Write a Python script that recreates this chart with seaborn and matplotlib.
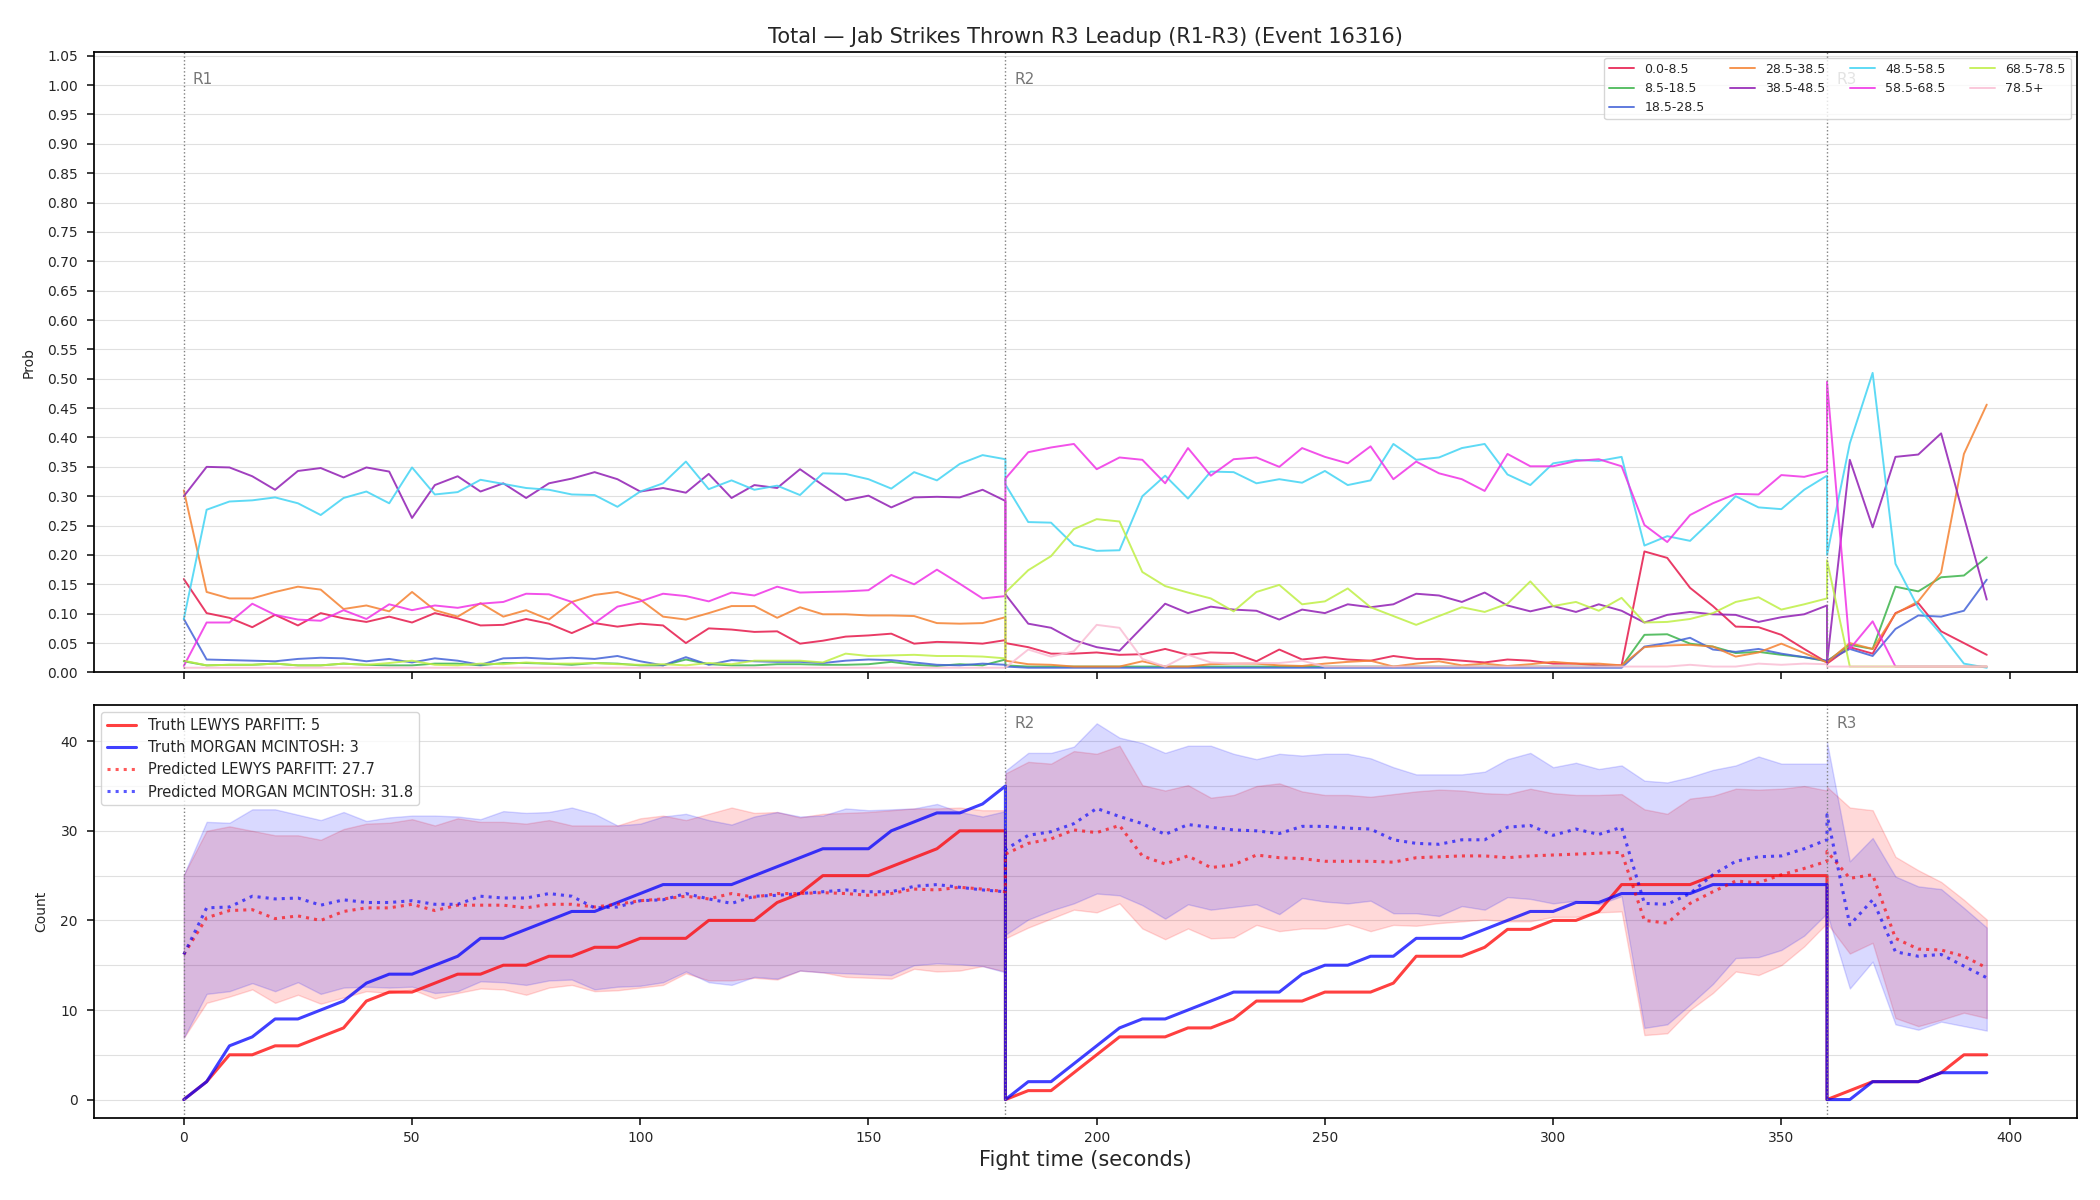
import numpy as np
import pandas as pd
import matplotlib
matplotlib.use("Agg")
import matplotlib.pyplot as plt
from matplotlib.ticker import MultipleLocator
import seaborn as sns

# fight time, three rounds; each round restarts at the boundary second
r1_t = list(range(0, 181, 5))
r2_t = list(range(180, 361, 5))
r3_t = list(range(360, 396, 5))
time_s = r1_t + r2_t + r3_t
round_starts = [0, 180, 360]
round_names = ["R1", "R2", "R3"]

# --- top panel: probability per strike-count bin ---
bins = ["0.0-8.5", "8.5-18.5", "18.5-28.5", "28.5-38.5", "38.5-48.5",
        "48.5-58.5", "58.5-68.5", "68.5-78.5", "78.5+"]
bin_colors = ["#e6194B", "#3cb44b", "#4363d8", "#f58231", "#911eb4",
              "#42d4f4", "#f032e6", "#bfef45", "#fabed4"]

p_0_8 = ([0.159, 0.101, 0.093, 0.077, 0.098, 0.080, 0.101, 0.092, 0.086, 0.095,
          0.085, 0.101, 0.092, 0.080, 0.081, 0.091, 0.083, 0.067, 0.084, 0.078,
          0.083, 0.080, 0.050, 0.075, 0.073, 0.069, 0.070, 0.049, 0.054, 0.061,
          0.063, 0.066, 0.049, 0.052, 0.051, 0.049, 0.055]
         + [0.050, 0.043, 0.032, 0.032, 0.034, 0.030, 0.031, 0.040, 0.030, 0.034,
            0.033, 0.019, 0.039, 0.022, 0.026, 0.022, 0.020, 0.028, 0.023, 0.023,
            0.020, 0.017, 0.022, 0.020, 0.015, 0.015, 0.012, 0.012, 0.206, 0.195,
            0.144, 0.113, 0.078, 0.077, 0.064, 0.040, 0.017]
         + [0.015, 0.043, 0.032, 0.101, 0.118, 0.070, 0.050, 0.030])
p_8_18 = ([0.019, 0.012, 0.013, 0.013, 0.015, 0.012, 0.012, 0.015, 0.013, 0.012,
           0.012, 0.015, 0.015, 0.012, 0.016, 0.016, 0.015, 0.013, 0.016, 0.015,
           0.012, 0.012, 0.022, 0.014, 0.012, 0.012, 0.014, 0.014, 0.013, 0.013,
           0.014, 0.018, 0.013, 0.011, 0.014, 0.012, 0.022]
          + [0.012, 0.010, 0.010, 0.010, 0.010, 0.010, 0.010, 0.010, 0.010, 0.010,
             0.010, 0.010, 0.010, 0.010, 0.010, 0.010, 0.010, 0.010, 0.010, 0.010,
             0.010, 0.010, 0.010, 0.010, 0.010, 0.010, 0.010, 0.010, 0.064, 0.065,
             0.049, 0.044, 0.033, 0.035, 0.030, 0.026, 0.019]
          + [0.019, 0.047, 0.040, 0.146, 0.138, 0.162, 0.165, 0.196])
p_18_28 = ([0.091, 0.022, 0.021, 0.020, 0.019, 0.023, 0.025, 0.024, 0.019, 0.023,
            0.017, 0.024, 0.020, 0.013, 0.024, 0.025, 0.023, 0.025, 0.023, 0.028,
            0.019, 0.012, 0.026, 0.013, 0.021, 0.019, 0.018, 0.018, 0.016, 0.020,
            0.022, 0.021, 0.017, 0.013, 0.012, 0.015, 0.013]
           + [0.010, 0.008, 0.008, 0.008, 0.008, 0.008, 0.008, 0.008, 0.008, 0.008,
              0.008, 0.008, 0.008, 0.008, 0.008, 0.008, 0.008, 0.008, 0.008, 0.008,
              0.008, 0.008, 0.008, 0.008, 0.008, 0.008, 0.008, 0.008, 0.044, 0.050,
              0.059, 0.039, 0.035, 0.040, 0.032, 0.026, 0.020]
           + [0.020, 0.040, 0.028, 0.074, 0.097, 0.095, 0.105, 0.158])
p_28_38 = ([0.310, 0.137, 0.126, 0.126, 0.137, 0.146, 0.141, 0.108, 0.114, 0.104,
            0.137, 0.106, 0.095, 0.118, 0.095, 0.106, 0.090, 0.120, 0.132, 0.137,
            0.124, 0.095, 0.090, 0.101, 0.113, 0.113, 0.093, 0.111, 0.099, 0.099,
            0.097, 0.097, 0.096, 0.084, 0.083, 0.084, 0.094]
           + [0.020, 0.014, 0.013, 0.010, 0.010, 0.010, 0.019, 0.010, 0.010, 0.014,
              0.015, 0.015, 0.012, 0.011, 0.015, 0.018, 0.020, 0.010, 0.015, 0.019,
              0.012, 0.015, 0.011, 0.014, 0.018, 0.015, 0.015, 0.012, 0.043, 0.046,
              0.047, 0.044, 0.027, 0.034, 0.049, 0.033, 0.017]
           + [0.017, 0.050, 0.040, 0.100, 0.121, 0.170, 0.372, 0.456])
p_38_48 = ([0.300, 0.350, 0.349, 0.334, 0.311, 0.343, 0.348, 0.332, 0.349, 0.342,
            0.263, 0.319, 0.334, 0.308, 0.322, 0.297, 0.322, 0.330, 0.341, 0.329,
            0.308, 0.314, 0.306, 0.338, 0.297, 0.319, 0.314, 0.346, 0.319, 0.293,
            0.301, 0.281, 0.298, 0.299, 0.298, 0.311, 0.292]
           + [0.133, 0.083, 0.076, 0.055, 0.043, 0.037, 0.077, 0.117, 0.101, 0.112,
              0.107, 0.105, 0.090, 0.107, 0.101, 0.116, 0.111, 0.116, 0.134, 0.131,
              0.120, 0.136, 0.114, 0.104, 0.113, 0.103, 0.116, 0.105, 0.085, 0.098,
              0.103, 0.099, 0.098, 0.086, 0.094, 0.099, 0.114]
           + [0.016, 0.362, 0.247, 0.367, 0.371, 0.407, 0.265, 0.124])
p_48_58 = ([0.091, 0.277, 0.291, 0.293, 0.298, 0.288, 0.268, 0.297, 0.308, 0.288,
            0.349, 0.303, 0.307, 0.328, 0.321, 0.314, 0.311, 0.303, 0.302, 0.282,
            0.308, 0.322, 0.359, 0.312, 0.327, 0.311, 0.318, 0.302, 0.339, 0.338,
            0.329, 0.313, 0.341, 0.327, 0.355, 0.370, 0.363]
           + [0.320, 0.256, 0.255, 0.217, 0.207, 0.208, 0.300, 0.335, 0.296, 0.342,
              0.341, 0.322, 0.329, 0.323, 0.343, 0.319, 0.327, 0.389, 0.362, 0.366,
              0.382, 0.389, 0.337, 0.319, 0.356, 0.362, 0.360, 0.367, 0.216, 0.232,
              0.224, 0.261, 0.300, 0.281, 0.278, 0.311, 0.335]
           + [0.200, 0.390, 0.510, 0.185, 0.110, 0.065, 0.015, 0.008])
p_58_68 = ([0.011, 0.085, 0.085, 0.117, 0.098, 0.090, 0.088, 0.106, 0.091, 0.116,
            0.106, 0.114, 0.110, 0.117, 0.120, 0.134, 0.133, 0.120, 0.084, 0.112,
            0.121, 0.134, 0.130, 0.121, 0.136, 0.131, 0.146, 0.136, 0.137, 0.138,
            0.140, 0.166, 0.150, 0.175, 0.151, 0.126, 0.130]
           + [0.330, 0.375, 0.383, 0.389, 0.346, 0.366, 0.362, 0.322, 0.382, 0.335,
              0.363, 0.366, 0.350, 0.382, 0.367, 0.356, 0.385, 0.329, 0.359, 0.339,
              0.329, 0.309, 0.372, 0.351, 0.351, 0.360, 0.363, 0.351, 0.251, 0.222,
              0.268, 0.288, 0.304, 0.303, 0.336, 0.333, 0.343]
           + [0.495, 0.040, 0.087, 0.010, 0.010, 0.010, 0.010, 0.010])
p_68_78 = ([0.020, 0.012, 0.013, 0.013, 0.015, 0.012, 0.012, 0.015, 0.013, 0.016,
            0.020, 0.013, 0.012, 0.015, 0.014, 0.017, 0.015, 0.015, 0.016, 0.014,
            0.013, 0.014, 0.012, 0.016, 0.014, 0.020, 0.020, 0.020, 0.017, 0.032,
            0.028, 0.029, 0.030, 0.028, 0.028, 0.027, 0.024]
           + [0.136, 0.174, 0.198, 0.244, 0.261, 0.257, 0.171, 0.147, 0.136, 0.126,
              0.104, 0.137, 0.149, 0.116, 0.121, 0.143, 0.111, 0.096, 0.081, 0.096,
              0.111, 0.103, 0.117, 0.155, 0.113, 0.120, 0.105, 0.127, 0.085, 0.086,
              0.091, 0.101, 0.120, 0.128, 0.107, 0.116, 0.126]
           + [0.191, 0.010, 0.010, 0.010, 0.010, 0.010, 0.010, 0.010])
p_78_up = ([0.008, 0.008, 0.008, 0.008, 0.008, 0.008, 0.008, 0.008, 0.008, 0.008,
            0.008, 0.008, 0.008, 0.008, 0.008, 0.008, 0.008, 0.008, 0.008, 0.008,
            0.008, 0.008, 0.008, 0.008, 0.008, 0.008, 0.008, 0.008, 0.008, 0.008,
            0.008, 0.008, 0.008, 0.008, 0.008, 0.008, 0.008]
           + [0.008, 0.039, 0.027, 0.036, 0.081, 0.076, 0.023, 0.010, 0.030, 0.017,
              0.015, 0.016, 0.016, 0.020, 0.010, 0.010, 0.010, 0.010, 0.010, 0.010,
              0.010, 0.010, 0.010, 0.010, 0.010, 0.010, 0.010, 0.010, 0.010, 0.010,
              0.013, 0.010, 0.010, 0.015, 0.013, 0.015, 0.014]
           + [0.010, 0.010, 0.010, 0.010, 0.010, 0.010, 0.010, 0.010])
bin_probs = [p_0_8, p_8_18, p_18_28, p_28_38, p_38_48, p_48_58, p_58_68, p_68_78, p_78_up]

# --- bottom panel: cumulative counts ---
fighter_a = "LEWYS PARFITT"
fighter_b = "MORGAN MCINTOSH"
truth_a_final, truth_b_final = 5, 3
pred_a_final, pred_b_final = 27.7, 31.8

truth_a = ([0, 2, 5, 5, 6, 6, 7, 8, 11, 12, 12, 13, 14, 14, 15, 15, 16, 16, 17, 17,
            18, 18, 18, 20, 20, 20, 22, 23, 25, 25, 25, 26, 27, 28, 30, 30, 30]
           + [0, 1, 1, 3, 5, 7, 7, 7, 8, 8, 9, 11, 11, 11, 12, 12, 12, 13, 16, 16,
              16, 17, 19, 19, 20, 20, 21, 24, 24, 24, 24, 25, 25, 25, 25, 25, 25]
           + [0, 1, 2, 2, 2, 3, 5, 5])
truth_b = ([0, 2, 6, 7, 9, 9, 10, 11, 13, 14, 14, 15, 16, 18, 18, 19, 20, 21, 21, 22,
            23, 24, 24, 24, 24, 25, 26, 27, 28, 28, 28, 30, 31, 32, 32, 33, 35]
           + [0, 2, 2, 4, 6, 8, 9, 9, 10, 11, 12, 12, 12, 14, 15, 15, 16, 16, 18, 18,
              18, 19, 20, 21, 21, 22, 22, 23, 23, 23, 23, 24, 24, 24, 24, 24, 24]
           + [0, 0, 2, 2, 2, 3, 3, 3])
pred_a = ([16.2, 20.3, 21.1, 21.2, 20.2, 20.5, 20.0, 21.0, 21.4, 21.4,
           21.8, 21.1, 21.7, 21.7, 21.7, 21.4, 21.8, 21.8, 21.5, 21.8,
           22.2, 22.4, 22.7, 22.4, 23.0, 22.6, 23.0, 23.0, 23.1, 23.0,
           22.8, 23.0, 23.5, 23.4, 23.7, 23.5, 23.2]
          + [27.4, 28.6, 29.1, 30.1, 29.8, 30.6, 27.2, 26.3, 27.2, 25.9,
             26.2, 27.3, 27.0, 26.9, 26.6, 26.6, 26.6, 26.5, 27.0, 27.1,
             27.2, 27.2, 27.0, 27.2, 27.3, 27.4, 27.5, 27.6, 20.0, 19.7,
             21.9, 23.2, 24.4, 24.2, 25.1, 25.8, 26.6]
          + [27.7, 24.7, 25.1, 18.0, 16.8, 16.7, 16.0, 14.7])
pred_b = ([16.2, 21.4, 21.5, 22.7, 22.4, 22.5, 21.7, 22.3, 22.0, 22.0,
           22.2, 21.8, 21.8, 22.7, 22.5, 22.5, 23.0, 22.7, 21.4, 21.5,
           22.2, 22.3, 23.0, 22.4, 21.9, 22.7, 22.8, 23.0, 23.2, 23.4,
           23.2, 23.2, 23.8, 24.0, 23.7, 23.4, 23.2]
          + [27.9, 29.5, 29.9, 30.8, 32.5, 31.6, 30.8, 29.6, 30.7, 30.4,
             30.1, 30.0, 29.7, 30.5, 30.5, 30.3, 30.2, 29.0, 28.6, 28.5,
             29.0, 29.0, 30.4, 30.6, 29.5, 30.2, 29.6, 30.4, 21.9, 21.8,
             23.0, 25.1, 26.6, 27.1, 27.2, 28.0, 29.0]
          + [31.8, 19.5, 22.3, 16.5, 16.0, 16.2, 14.9, 13.6])
band_a_lo = ([6.9, 10.8, 11.5, 12.3, 10.8, 11.7, 10.7, 11.4, 12.1, 11.9,
              12.3, 11.3, 11.9, 12.4, 12.3, 11.7, 12.5, 12.8, 12.1, 12.2,
              12.5, 12.8, 14.1, 13.3, 13.3, 13.6, 13.4, 14.4, 14.2, 13.7,
              13.6, 13.5, 14.6, 14.3, 14.4, 14.9, 14.3]
             + [18.0, 19.2, 20.2, 21.2, 20.9, 21.9, 19.1, 17.9, 19.1, 18.0,
                18.1, 19.5, 18.8, 19.1, 19.1, 19.6, 18.8, 19.5, 19.4, 19.7,
                19.9, 20.1, 19.9, 19.9, 20.4, 20.4, 20.9, 21.0, 7.2, 7.4,
                10.0, 11.9, 14.3, 13.9, 15.0, 17.1, 19.7]
             + [19.7, 16.3, 17.5, 9.1, 8.2, 8.9, 9.7, 9.1])
band_a_hi = ([25.1, 30.0, 30.5, 30.0, 29.5, 29.5, 29.0, 30.2, 30.8, 30.9,
              31.3, 30.6, 31.4, 31.0, 31.0, 30.8, 31.2, 30.6, 30.6, 30.6,
              31.4, 31.7, 31.2, 31.9, 32.6, 32.0, 32.1, 31.5, 31.9, 32.0,
              32.1, 32.3, 32.5, 32.5, 32.6, 32.3, 32.3]
             + [36.4, 37.7, 37.5, 38.9, 38.6, 39.5, 35.1, 34.5, 35.1, 33.7,
                34.0, 35.0, 35.3, 34.4, 34.0, 34.0, 33.8, 34.1, 34.4, 34.6,
                34.5, 34.2, 34.1, 34.7, 34.2, 34.0, 34.0, 34.1, 32.4, 31.9,
                33.6, 33.9, 34.7, 34.6, 34.7, 35.0, 34.5]
             + [34.9, 32.6, 32.3, 27.1, 25.6, 24.3, 22.3, 20.1])
band_b_lo = ([6.9, 11.8, 12.1, 13.0, 12.1, 13.1, 11.8, 12.5, 12.6, 12.5,
              12.6, 11.9, 12.1, 13.2, 13.1, 12.8, 13.3, 13.4, 12.3, 12.6,
              12.7, 13.1, 14.3, 13.1, 12.8, 13.7, 13.5, 14.4, 14.2, 14.1,
              14.0, 13.9, 15.0, 15.2, 15.1, 14.9, 14.2]
             + [18.4, 20.1, 21.1, 21.9, 23.0, 22.8, 21.7, 20.2, 21.8, 21.2,
                21.5, 21.8, 20.7, 22.5, 22.1, 21.9, 22.2, 20.8, 20.8, 20.5,
                21.6, 21.2, 22.6, 22.4, 21.9, 22.2, 21.8, 22.7, 8.0, 8.4,
                10.6, 12.9, 15.8, 15.9, 16.7, 18.3, 20.8]
             + [20.8, 12.4, 15.4, 8.4, 7.8, 8.7, 8.2, 7.7])
band_b_hi = ([25.1, 31.0, 30.9, 32.4, 32.4, 31.8, 31.2, 32.1, 31.1, 31.5,
              31.7, 31.7, 31.6, 31.3, 32.2, 32.0, 32.1, 32.6, 31.9, 30.6,
              30.8, 31.6, 31.9, 31.2, 30.7, 31.6, 32.1, 31.6, 31.7, 32.5,
              32.3, 32.4, 32.5, 33.0, 32.1, 31.6, 32.2]
             + [36.7, 38.7, 38.7, 39.4, 42.0, 40.4, 39.8, 38.7, 39.5, 39.5,
                38.6, 38.0, 38.6, 38.4, 38.6, 38.6, 38.1, 37.1, 36.3, 36.3,
                36.3, 36.6, 38.0, 38.7, 37.1, 37.6, 36.9, 37.3, 35.6, 35.4,
                36.0, 36.8, 37.3, 38.3, 37.5, 37.5, 37.5]
             + [39.9, 26.6, 29.2, 24.9, 23.8, 23.5, 21.4, 19.2])

sns.set_style("ticks")
plt.rcParams.update({
    "axes.edgecolor": "black",
    "axes.linewidth": 1.25,
    "xtick.major.size": 4.8, "ytick.major.size": 4.8,
    "xtick.major.width": 1.25, "ytick.major.width": 1.25,
    "xtick.major.pad": 4.0, "ytick.major.pad": 6.5,
})

fig = plt.figure(figsize=(21, 12), dpi=100)
gs = fig.add_gridspec(2, 1, height_ratios=[3, 2], hspace=0.062,
                      left=0.0446, right=0.989, top=0.957, bottom=0.068)
ax1 = fig.add_subplot(gs[0])
ax2 = fig.add_subplot(gs[1], sharex=ax1)

# top: one line per bin, drawn in data order (rounds restart at the boundary)
rows = []
for name, vals in zip(bins, bin_probs):
    for t, v in zip(time_s, vals):
        rows.append({"time": t, "prob": v, "bin": name})
df_top = pd.DataFrame(rows)
sns.lineplot(data=df_top, x="time", y="prob", hue="bin", hue_order=bins,
             palette=dict(zip(bins, bin_colors)), estimator=None, sort=False,
             lw=1.4, alpha=0.85, ax=ax1)
ax1.set_ylim(0, 1.057)
ax1.yaxis.set_major_locator(MultipleLocator(0.05))
ax1.set_ylabel("Prob", labelpad=8.5)
ax1.set_xlabel("")
ax1.set_title("Total \u2014 Jab Strikes Thrown R3 Leadup (R1-R3) (Event 16316)", fontsize=15)
ax1.grid(axis="y", color="#e0e0e0", lw=0.8)
ax1.legend(ncol=4, fontsize=9, loc="upper right")
plt.setp(ax1.get_xticklabels(), visible=False)

# bottom: uncertainty bands, truth and predicted counts
ax2.fill_between(time_s, band_a_lo, band_a_hi, color="red", alpha=0.15)
ax2.fill_between(time_s, band_b_lo, band_b_hi, color="blue", alpha=0.15)
sns.lineplot(x=time_s, y=truth_a, estimator=None, sort=False, color="red", alpha=0.75,
             lw=2.2, label=f"Truth {fighter_a}: {truth_a_final}", ax=ax2)
sns.lineplot(x=time_s, y=truth_b, estimator=None, sort=False, color="blue", alpha=0.75,
             lw=2.2, label=f"Truth {fighter_b}: {truth_b_final}", ax=ax2)
sns.lineplot(x=time_s, y=pred_a, estimator=None, sort=False, color="red", alpha=0.65,
             lw=2.2, ls=":", label=f"Predicted {fighter_a}: {pred_a_final}", ax=ax2)
sns.lineplot(x=time_s, y=pred_b, estimator=None, sort=False, color="blue", alpha=0.65,
             lw=2.2, ls=":", label=f"Predicted {fighter_b}: {pred_b_final}", ax=ax2)
ax2.yaxis.set_major_locator(MultipleLocator(10))
ax2.yaxis.set_minor_locator(MultipleLocator(5))
ax2.tick_params(axis="y", which="minor", length=0)
ax2.grid(axis="y", which="both", color="#e0e0e0", lw=0.8)
ax2.set_ylabel("Count", labelpad=8.5)
ax2.set_xlabel("Fight time (seconds)", fontsize=15)
ax2.legend(loc="upper left", fontsize=10.5)

for ax in (ax1, ax2):
    for t0, rn in zip(round_starts, round_names):
        ax.axvline(t0, color="gray", ls=":", lw=1)
        # the lower panel's R1 tag sits under the legend, so it is left out
        if ax is ax2 and t0 == 0:
            continue
        ax.text(t0 + 2, 0.955, rn, transform=ax.get_xaxis_transform(),
                color="#555555", alpha=0.8, fontsize=11, va="center", zorder=1)
    ax.set_axisbelow(True)

fig.savefig("out.png", dpi=100)
